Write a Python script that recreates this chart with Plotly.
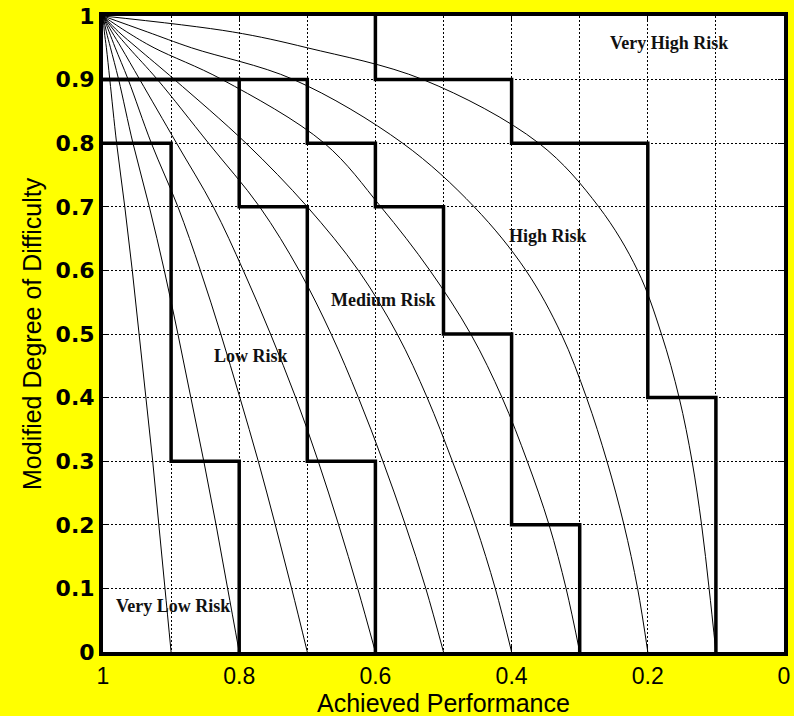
import plotly.graph_objects as go

# Modified degree of difficulty levels at which each iso-risk curve is sampled
difficulty_levels = [0.0, 0.1, 0.2, 0.3, 0.4, 0.5, 0.6, 0.7, 0.8, 0.9, 0.95, 0.975, 1.0]

# Achieved performance along each curve (curves end at performance 0.9 ... 0.1)
curve_090 = [0.900, 0.909, 0.918, 0.927, 0.937, 0.947, 0.957, 0.968, 0.980, 0.990, 0.995, 0.998, 1.0]
curve_080 = [0.800, 0.817, 0.834, 0.852, 0.871, 0.890, 0.910, 0.932, 0.956, 0.977, 0.989, 0.995, 1.0]
curve_070 = [0.700, 0.723, 0.747, 0.772, 0.799, 0.827, 0.857, 0.890, 0.929, 0.963, 0.982, 0.991, 1.0]
curve_060 = [0.600, 0.626, 0.654, 0.684, 0.717, 0.754, 0.794, 0.838, 0.892, 0.946, 0.973, 0.987, 1.0]
curve_050 = [0.500, 0.526, 0.556, 0.589, 0.625, 0.665, 0.712, 0.770, 0.845, 0.920, 0.962, 0.982, 1.0]
curve_040 = [0.400, 0.424, 0.453, 0.487, 0.524, 0.568, 0.625, 0.700, 0.790, 0.895, 0.950, 0.977, 1.0]
curve_030 = [0.300, 0.320, 0.345, 0.377, 0.414, 0.460, 0.520, 0.592, 0.675, 0.825, 0.925, 0.965, 1.0]
curve_020 = [0.200, 0.215, 0.235, 0.260, 0.290, 0.327, 0.379, 0.455, 0.560, 0.720, 0.870, 0.935, 1.0]
curve_010 = [0.100, 0.110, 0.121, 0.135, 0.154, 0.180, 0.215, 0.272, 0.360, 0.530, 0.700, 0.810, 1.0]

iso_curves = [curve_090, curve_080, curve_070, curve_060, curve_050,
              curve_040, curve_030, curve_020, curve_010]

# Risk-zone boundaries given as step corner points (performance, difficulty)
very_low_low_perf = [1.0, 0.9, 0.8]
very_low_low_diff = [0.8, 0.3, 0.0]

low_medium_perf = [1.0, 0.8, 0.7, 0.6]
low_medium_diff = [0.9, 0.7, 0.3, 0.0]

medium_high_perf = [1.0, 0.7, 0.6, 0.5, 0.4, 0.3]
medium_high_diff = [0.9, 0.8, 0.7, 0.5, 0.2, 0.0]

high_very_high_perf = [0.6, 0.4, 0.2, 0.1, 0.1]
high_very_high_diff = [1.0, 0.9, 0.8, 0.4, 0.0]

# Zone names and axis titles
zone_labels = ["Very High Risk", "High Risk", "Medium Risk", "Low Risk", "Very Low Risk"]
x_title = "Achieved Performance"
y_title = "Modified Degree of Difficulty"

# Tick labels
x_tick_vals = [1.0, 0.8, 0.6, 0.4, 0.2, 0.0]
x_tick_text = ["1", "0.8", "0.6", "0.4", "0.2", "0"]
y_tick_vals = [0.0, 0.1, 0.2, 0.3, 0.4, 0.5, 0.6, 0.7, 0.8, 0.9, 1.0]
y_tick_text = ["0", "0.1", "0.2", "0.3", "0.4", "0.5", "0.6", "0.7", "0.8", "0.9", "1"]

fig = go.Figure()

for xs in iso_curves:
    fig.add_trace(go.Scatter(
        x=xs, y=difficulty_levels, mode="lines",
        line=dict(color="black", width=1, shape="spline", smoothing=1.0),
        hoverinfo="skip", showlegend=False,
    ))

step_lines = [
    (very_low_low_perf, very_low_low_diff, "hv"),
    (low_medium_perf, low_medium_diff, "hv"),
    (medium_high_perf, medium_high_diff, "hv"),
    (high_very_high_perf, high_very_high_diff, "vh"),
]
for px, py, shp in step_lines:
    fig.add_trace(go.Scatter(
        x=px, y=py, mode="lines",
        line=dict(color="black", width=3.5, shape=shp),
        hoverinfo="skip", showlegend=False,
    ))

label_pos = [(0.169, 0.957), (0.346, 0.654), (0.588, 0.553), (0.782, 0.466), (0.897, 0.072)]
for text, (lx, ly) in zip(zone_labels, label_pos):
    fig.add_annotation(
        x=lx, y=ly, text=text, showarrow=False,
        font=dict(family="Liberation Serif, Times New Roman, serif", size=18,
                  color="#111111", weight="bold"),
    )

sans = "Liberation Sans, Arial, sans-serif"
# Axis titles placed relative to the plotting area
fig.add_annotation(
    x=0.5, y=0, xref="paper", yref="paper", yanchor="middle", yshift=-51,
    text=x_title, showarrow=False, font=dict(family=sans, size=25, color="black"),
)
fig.add_annotation(
    x=0, y=0.5, xref="paper", yref="paper", xanchor="center", xshift=-71,
    text=y_title, textangle=-90, showarrow=False,
    font=dict(family=sans, size=25, color="black"),
)

grid_dash = "2px,2px"
fig.update_xaxes(
    range=[1, 0], tickmode="array", tickvals=x_tick_vals, ticktext=x_tick_text,
    ticks="inside", ticklen=6, tickwidth=1, tickcolor="black",
    showline=True, linewidth=4, linecolor="black", mirror="ticks",
    showgrid=True, gridcolor="black", gridwidth=1, griddash=grid_dash,
    minor=dict(tickmode="linear", tick0=0, dtick=0.1, showgrid=True,
               gridcolor="black", gridwidth=1, griddash=grid_dash, ticks=""),
    zeroline=False, automargin=False,
    tickfont=dict(family=sans, size=23, color="black"),
)
fig.update_yaxes(
    range=[0, 1], tickmode="array", tickvals=y_tick_vals, ticktext=y_tick_text,
    ticks="inside", ticklen=6, tickwidth=1, tickcolor="black",
    showline=True, linewidth=4, linecolor="black", mirror="ticks",
    showgrid=True, gridcolor="black", gridwidth=1, griddash=grid_dash,
    zeroline=False, automargin=False,
    tickfont=dict(family="DejaVu Sans, sans-serif", size=22, color="black", weight="bold"),
)

fig.update_layout(
    width=794, height=716,
    margin=dict(l=103, r=10, t=16, b=64),
    paper_bgcolor="#FFFF00", plot_bgcolor="white",
    showlegend=False,
)

fig.write_html("out.html")
